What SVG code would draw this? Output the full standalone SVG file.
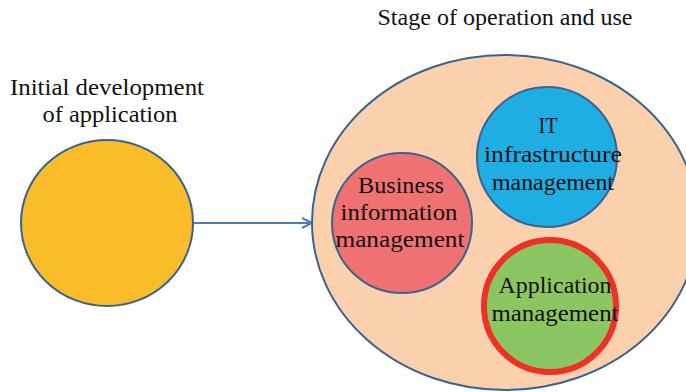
<svg xmlns="http://www.w3.org/2000/svg" width="686" height="392" viewBox="0 0 686 392">
<defs>
<style>
.lbl{font-family:"Liberation Serif","Times New Roman",serif;font-size:23px;fill:#111;text-anchor:middle}
.node{stroke:#3A6391;stroke-width:2}
</style>
<marker id="arr" viewBox="0 0 12 12" refX="11" refY="6" markerWidth="12" markerHeight="12" markerUnits="userSpaceOnUse" orient="auto">
<path d="M1,1 L11,6 L1,11" fill="none" stroke="#4A7EBB" stroke-width="2"/>
</marker>
</defs>
<rect width="686" height="392" fill="#FFFFFF"/>
<g id="label-initial">
<text class="lbl" x="107" y="95" textLength="194" lengthAdjust="spacingAndGlyphs">Initial development</text>
<text class="lbl" x="110" y="122" textLength="135" lengthAdjust="spacingAndGlyphs">of application</text>
</g>
<g id="label-stage">
<text class="lbl" x="505" y="25" textLength="255" lengthAdjust="spacingAndGlyphs">Stage of operation and use</text>
</g>
<g id="connectors">
<line x1="194" y1="223" x2="312" y2="223" stroke="#4A7EBB" stroke-width="2" marker-end="url(#arr)"/>
</g>
<g id="initial">
<ellipse class="node" cx="107" cy="223" rx="86" ry="83" fill="#FBBC2A"/>
</g>
<g id="stage">
<ellipse class="node" cx="505" cy="222.5" rx="193" ry="167.5" fill="#FBD0AC"/>
</g>
<g id="business">
<circle class="node" cx="402" cy="223" r="70" fill="#F07171"/>
<text class="lbl" x="401" y="193" textLength="86" lengthAdjust="spacingAndGlyphs">Business</text>
<text class="lbl" x="399" y="220" textLength="117" lengthAdjust="spacingAndGlyphs">information</text>
<text class="lbl" x="400" y="247" textLength="129" lengthAdjust="spacingAndGlyphs">management</text>
</g>
<g id="it">
<circle class="node" cx="547" cy="157" r="70" fill="#1EAEE4"/>
<text class="lbl" x="548" y="133" textLength="19" lengthAdjust="spacingAndGlyphs">IT</text>
<text class="lbl" x="553" y="162" textLength="138" lengthAdjust="spacingAndGlyphs">infrastructure</text>
<text class="lbl" x="553" y="190" textLength="122" lengthAdjust="spacingAndGlyphs">management</text>
</g>
<g id="application">
<circle cx="550" cy="306" r="66" fill="#8BC660" stroke="#EE3124" stroke-width="6"/>
<text class="lbl" x="555" y="293" textLength="113" lengthAdjust="spacingAndGlyphs">Application</text>
<text class="lbl" x="555" y="321" textLength="127" lengthAdjust="spacingAndGlyphs">management</text>
</g>
</svg>
